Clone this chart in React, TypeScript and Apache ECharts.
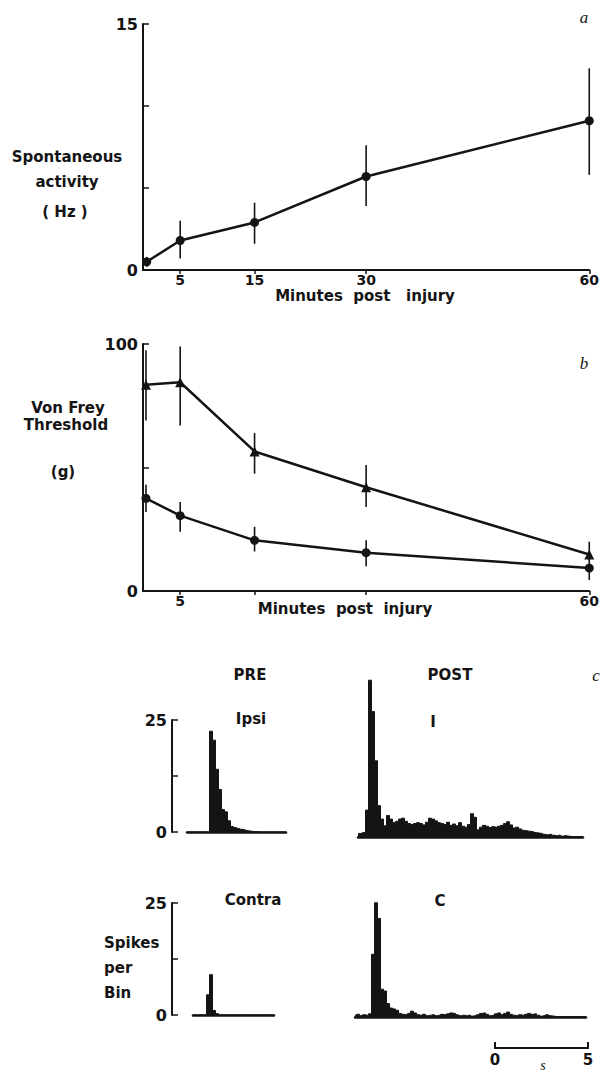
import React, { useEffect, useRef } from "react";
import * as echarts from "echarts";

// ---- Panel a: spontaneous activity (Hz) vs minutes post injury
const minutesA = [0.5, 5, 15, 30, 60];
const spontMean = [0.5, 1.8, 2.9, 5.7, 9.1];
const spontLow = [0.2, 0.7, 1.6, 3.9, 5.8];
const spontHigh = [0.8, 3.0, 4.1, 7.6, 12.3];

// ---- Panel b: von Frey threshold (g)
const minutesB = [0.4, 5, 15, 30, 60];
const vfTriMean = [83.5, 84.5, 56.5, 42, 14.8];
const vfTriLow = [69, 67, 47.5, 34, 12.5];
const vfTriHigh = [97.5, 99, 64, 51, 20];
const vfDotMean = [37.5, 30.5, 20.5, 15.5, 9.3];
const vfDotLow = [32, 24, 16, 10, 4.5];
const vfDotHigh = [43, 36, 26, 20.5, 13.5];

const minuteTicks = [5, 15, 30, 60];
const minuteLabelsA = [5, 15, 30, 60];
const minuteLabelsB = [5, 60];

// ---- Panel c: spikes per bin histograms
const preIpsi = [0, 0, 0, 0, 0, 0, 0, 0, 22.5, 20.5, 14, 9.5, 5, 4.5, 2.5, 1.2, 1.0, 0.8, 0.6, 0.5, 0.3, 0.2, 0.1, 0.1, 0, 0, 0, 0, 0, 0, 0, 0, 0, 0];
const postIpsi = [
  0.8, 0.8, 1.0, 6, 35, 28, 17, 7, 4, 2.5,
  4.8, 4, 3.2, 3.5, 4, 4.2, 3.5, 3, 2.8, 3,
  3.2, 3.0, 2.7, 3.3, 4.2, 4.0, 3.6, 3.2, 3.0, 2.8,
  3.3, 2.6, 2.9, 2.5, 3.2, 2.4, 2.2, 2.8, 5.2, 4.4,
  1.6, 2.2, 2.6, 2.4, 2.1, 2.3, 2.2, 2.4, 2.6, 3.0,
  3.4, 2.7, 2.0, 2.2, 1.8, 1.5, 1.4, 1.3, 1.2, 1.0,
  0.9, 0.8, 0.6, 0.5, 0.6, 0.4, 0.3, 0.4, 0.2, 0.3,
  0.2, 0.1, 0.1, 0.1, 0.1, 0.1,
];
const preContra = [0, 0, 0, 0, 0, 4.5, 9, 1, 0.3, 0, 0, 0, 0, 0, 0, 0, 0, 0, 0, 0, 0, 0, 0, 0, 0, 0, 0, 0];
const postContra = [
  0.4, 0.6, 0.3, 0.5, 0.4, 0.7, 14, 25.5, 22, 6.2,
  5.8, 3, 2, 1.8, 1.5, 0.8, 0.6, 0.5, 0.8, 1.3,
  0.9, 0.5, 0.4, 0.6, 0.3, 0.4, 0.5, 0.3, 0.4, 0.6,
  0.5, 0.7, 0.9, 0.8, 0.5, 0.3, 0.4, 0.3, 0.4, 0.2,
  0.3, 0.5, 0.8, 0.9, 0.6, 0.3, 0.4, 0.7, 0.9, 0.5,
  0.8, 1.1, 0.6, 0.4, 0.3, 0.5, 0.4, 0.6, 0.8, 0.6,
  0.7, 0.4, 0.2, 0.3, 0.5, 0.3, 0.2, 0.1, 0.1, 0.1,
  0.1, 0.1, 0.1, 0.1, 0.1, 0.1, 0.1, 0.1,
];

const FONT = "'DejaVu Sans', sans-serif";
const INK = "#141414";
const BIN_PX = 3;

const renderErr = (_params: any, api: any) => {
  const a = api.coord([api.value(0), api.value(1)]);
  const b = api.coord([api.value(0), api.value(2)]);
  return {
    type: "line",
    shape: { x1: a[0], y1: a[1], x2: b[0], y2: b[1] },
    style: { stroke: INK, lineWidth: 1.6 },
  };
};

const pairs = (xs: number[], ys: number[]) => xs.map((x, i) => [x, ys[i]]);
const triples = (xs: number[], lo: number[], hi: number[]) => xs.map((x, i) => [x, lo[i], hi[i]]);

function minutesXAxis(grid: number, labels: number[]) {
  return {
    gridIndex: grid,
    type: "value",
    min: 0,
    max: 60,
    axisLine: { show: true, onZero: false, lineStyle: { color: INK, width: 2 } },
    axisTick: { show: true, customValues: minuteTicks, length: 4, lineStyle: { color: INK, width: 1.5 } },
    axisLabel: { customValues: labels, color: INK, fontFamily: FONT, fontWeight: "bold", fontSize: 14, margin: 3 },
    splitLine: { show: false },
  };
}

function leftYAxis(grid: number, max: number, interval: number, offset = 0) {
  return {
    gridIndex: grid,
    type: "value",
    min: 0,
    max,
    interval,
    offset,
    axisLine: { show: true, onZero: false, lineStyle: { color: INK, width: 2 } },
    axisTick: { show: true, inside: true, length: 6, lineStyle: { color: INK, width: 1.5 } },
    axisLabel: {
      color: INK,
      fontFamily: FONT,
      fontWeight: "bold",
      fontSize: 16,
      margin: 5,
      formatter: (v: number) => (v === 0 || v === max ? String(v) : ""),
    },
    splitLine: { show: false },
  };
}

function histXAxis(grid: number, bins: number[]) {
  return {
    gridIndex: grid,
    type: "category",
    boundaryGap: false,
    data: bins.map((_, i) => String(i)),
    axisLine: { show: true, lineStyle: { color: INK, width: 2.5 } },
    axisTick: { show: false },
    axisLabel: { show: false },
    splitLine: { show: false },
  };
}

function hiddenYAxis(grid: number) {
  return { gridIndex: grid, type: "value", min: 0, max: 25, show: false };
}

function histSeries(idx: number, bins: number[]) {
  return {
    type: "line",
    xAxisIndex: idx,
    yAxisIndex: idx,
    data: bins,
    step: "middle",
    symbol: "none",
    clip: false,
    lineStyle: { color: INK, width: 1 },
    areaStyle: { color: INK, opacity: 1 },
    silent: true,
  };
}

function txt(text: string, x: number, y: number, opts: any = {}) {
  return {
    type: "text",
    x,
    y,
    silent: true,
    style: {
      text,
      fill: INK,
      font: opts.font || `bold 15px ${FONT}`,
      textAlign: opts.align || "center",
      textVerticalAlign: "middle",
    },
  };
}

export default function App() {
  const ref = useRef<HTMLDivElement>(null);

  useEffect(() => {
    if (!ref.current) return;
    const chart = echarts.init(ref.current, null, { renderer: "svg" });
    const italic = "italic 17px 'Liberation Serif', serif";

    const option: any = {
      animation: false,
      backgroundColor: "#ffffff",
      grid: [
        { left: 143, top: 24, width: 450, height: 246 },
        { left: 143, top: 344, width: 450, height: 247 },
        { left: 187, top: 720, width: (preIpsi.length - 1) * BIN_PX, height: 112 },
        { left: 358, top: 725, width: (postIpsi.length - 1) * BIN_PX, height: 112 },
        { left: 193, top: 903, width: (preContra.length - 1) * BIN_PX, height: 112 },
        { left: 355, top: 905, width: (postContra.length - 1) * BIN_PX, height: 112 },
      ],
      xAxis: [
        minutesXAxis(0, minuteLabelsA),
        minutesXAxis(1, minuteLabelsB),
        histXAxis(2, preIpsi),
        histXAxis(3, postIpsi),
        histXAxis(4, preContra),
        histXAxis(5, postContra),
      ],
      yAxis: [
        leftYAxis(0, 15, 5),
        leftYAxis(1, 100, 50),
        leftYAxis(2, 25, 12.5, 15),
        hiddenYAxis(3),
        leftYAxis(4, 25, 12.5, 21),
        hiddenYAxis(5),
      ],
      series: [
        histSeries(2, preIpsi),
        histSeries(3, postIpsi),
        histSeries(4, preContra),
        histSeries(5, postContra),
        {
          type: "custom",
          xAxisIndex: 0,
          yAxisIndex: 0,
          data: triples(minutesA, spontLow, spontHigh),
          renderItem: renderErr,
          encode: { x: 0, y: [1, 2] },
          silent: true,
        },
        {
          type: "line",
          xAxisIndex: 0,
          yAxisIndex: 0,
          data: pairs(minutesA, spontMean),
          symbol: "circle",
          symbolSize: 9,
          lineStyle: { color: INK, width: 2.5 },
          itemStyle: { color: INK },
          silent: true,
        },
        {
          type: "custom",
          xAxisIndex: 1,
          yAxisIndex: 1,
          data: triples(minutesB, vfTriLow, vfTriHigh),
          renderItem: renderErr,
          encode: { x: 0, y: [1, 2] },
          silent: true,
        },
        {
          type: "custom",
          xAxisIndex: 1,
          yAxisIndex: 1,
          data: triples(minutesB, vfDotLow, vfDotHigh),
          renderItem: renderErr,
          encode: { x: 0, y: [1, 2] },
          silent: true,
        },
        {
          type: "line",
          xAxisIndex: 1,
          yAxisIndex: 1,
          data: pairs(minutesB, vfTriMean),
          symbol: "triangle",
          symbolSize: 10,
          lineStyle: { color: INK, width: 2.5 },
          itemStyle: { color: INK },
          silent: true,
        },
        {
          type: "line",
          xAxisIndex: 1,
          yAxisIndex: 1,
          data: pairs(minutesB, vfDotMean),
          symbol: "circle",
          symbolSize: 9,
          lineStyle: { color: INK, width: 2.5 },
          itemStyle: { color: INK },
          silent: true,
        },
      ],
      graphic: [
        // panel a
        txt("a", 584, 17, { font: italic }),
        txt("Spontaneous", 67, 157),
        txt("activity", 67, 182),
        txt("( Hz )", 65, 212),
        txt("Minutes  post   injury", 365, 296),
        // panel b
        txt("b", 584, 363, { font: italic }),
        txt("Von Frey", 68, 408),
        txt("Threshold", 66, 425),
        txt("(g)", 63, 472),
        txt("Minutes  post  injury", 345, 609),
        // panel c
        txt("PRE", 250, 675),
        txt("POST", 450, 675),
        txt("c", 596, 675, { font: italic }),
        txt("Ipsi", 251, 719),
        txt("I", 433, 722),
        txt("Contra", 253, 900),
        txt("C", 440, 901),
        txt("Spikes", 104, 943, { align: "left" }),
        txt("per", 104, 968, { align: "left" }),
        txt("Bin", 104, 993, { align: "left" }),
        // time scale bar
        {
          type: "polyline",
          silent: true,
          shape: { points: [[495, 1042], [495, 1048], [588, 1048], [588, 1042]] },
          style: { stroke: INK, lineWidth: 2, fill: "none" },
        },
        txt("0", 495, 1060),
        txt("5", 588, 1060),
        txt("s", 543, 1065, { font: "italic 14px 'Liberation Serif', serif" }),
      ],
    };

    chart.setOption(option);
    return () => chart.dispose();
  }, []);

  return (
    <div
      ref={ref}
      style={{ position: "absolute", left: 0, top: 0, width: 602, height: 1073, background: "#fff" }}
    />
  );
}
